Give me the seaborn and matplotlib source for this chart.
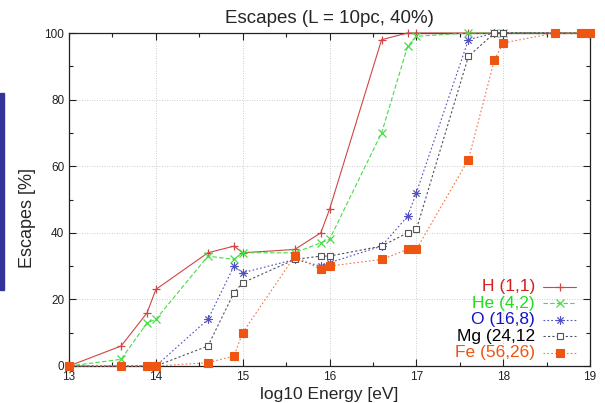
import matplotlib
matplotlib.use('Agg')
import matplotlib.pyplot as plt
from matplotlib.lines import Line2D
from matplotlib.patches import Rectangle
from matplotlib.ticker import MultipleLocator
import numpy as np
import pandas as pd
import seaborn as sns

# log10 energy points (same for every element)
energy = [13, 13.6, 13.9, 14, 14.6, 14.9, 15, 15.6, 15.9, 16,
          16.6, 16.9, 17, 17.6, 17.9, 18, 18.6, 18.9, 19]

h_esc = [0, 6, 16, 23, 34, 36, 34, 35, 40, 47, 98, 100, 100, 100, 100, 100, 100, 100, 100]
he_esc = [0, 2, 13, 14, 33, 32, 34, 34, 37, 38, 70, 96, 99, 100, 100, 100, 100, 100, 100]
o_esc = [0, 0, 0, 0, 14, 30, 28, 32, 30, 31, 36, 45, 52, 98, 100, 100, 100, 100, 100]
mg_esc = [0, 0, 0, 0, 6, 22, 25, 32, 33, 33, 36, 40, 41, 93, 100, 100, 100, 100, 100]
fe_esc = [0, 0, 0, 0, 1, 3, 10, 33, 29, 30, 32, 35, 35, 62, 92, 97, 100, 100, 100]

labels = ["H (1,1)", "He (4,2)", "O (16,8)", "Mg (24,12", "Fe (56,26)"]
values = [h_esc, he_esc, o_esc, mg_esc, fe_esc]

# style per element: line colour, text colour, linestyle, marker, filled?
styles = [
    ("#d04545", "#d42020", "-", "+", True),
    ("#44dd44", "#22dd22", (0, (4, 2)), "x", True),
    ("#5050c0", "#1515c0", (0, (1.5, 2)), "$\u2733$", True),
    ("#505060", "#000000", (0, (2, 2)), "s", False),
    ("#ee7744", "#ee5511", (0, (1.5, 2)), "s", True),
]

sns.set_style("ticks")
plt.rcParams['font.family'] = ['Liberation Sans', 'DejaVu Sans']

fig = plt.figure(figsize=(6.05, 4.03), dpi=100)
ax = fig.add_axes([69 / 605, 1 - 366 / 403, 521 / 605, 333 / 403])

# gnuplot-style key rows (axes fraction), top to bottom
key_top, key_step = 0.238, 0.0495

for i, (lab, vals, (lc, tc, ls, mk, filled)) in enumerate(zip(labels, values, styles)):
    df = pd.DataFrame({"energy": energy, "escapes": vals})
    if mk == "s":
        mfc = "#ee5511" if filled else "white"
        mec = "#ee5511" if filled else "#555555"
        ms = 5.5 if filled else 5
        mew = 0.8
    elif mk == "+":
        mfc = mec = lc
        ms = 6
        mew = 0.9
    elif mk == "x":
        mfc = mec = lc
        ms = 5.5
        mew = 0.9
    else:
        mfc = mec = lc
        ms = 6
        mew = 0.4
    sns.lineplot(data=df, x="energy", y="escapes", ax=ax, color=lc,
                 linestyle=ls, linewidth=0.8, marker=mk, markersize=ms,
                 markerfacecolor=mfc, markeredgecolor=mec, markeredgewidth=mew,
                 clip_on=False, zorder=3)
    # key entry
    y = key_top - i * key_step
    ax.text(0.894, y, lab, color=tc, fontsize=12.5, ha="right", va="center",
            transform=ax.transAxes)
    ax.add_line(Line2D([0.910, 0.973], [y, y], color=lc, linestyle=ls,
                       linewidth=0.8, transform=ax.transAxes))
    ax.add_line(Line2D([0.9415], [y], color=lc, marker=mk, markersize=ms,
                       markerfacecolor=mfc, markeredgecolor=mec,
                       markeredgewidth=mew, transform=ax.transAxes))

ax.set_xlim(13, 19)
ax.set_ylim(0, 100)
ax.xaxis.set_major_locator(MultipleLocator(1))
ax.xaxis.set_minor_locator(MultipleLocator(0.5))
ax.yaxis.set_major_locator(MultipleLocator(20))
ax.yaxis.set_minor_locator(MultipleLocator(10))
ax.grid(True, which="major", color="#bbbbbb", linestyle=(0, (1, 2)), linewidth=0.6)
ax.tick_params(which="both", direction="in", top=True, right=True,
               labelsize=8.5, colors="#222222")
ax.tick_params(which="major", length=5, width=0.8)
ax.tick_params(which="minor", length=3, width=0.8)
for s in ax.spines.values():
    s.set_color("#222222")
    s.set_linewidth(0.9)

ax.set_title("Escapes (L = 10pc, 40%)", fontsize=13.5, pad=7)
ax.set_xlabel("log10 Energy [eV]", fontsize=12.5, va="top")
ax.xaxis.set_label_coords(0.5, -0.063)
ax.set_ylabel("Escapes [%]", fontsize=13, va="center")
ax.yaxis.set_label_coords(-0.08, 0.444)

# blue side bar
fig.patches.append(Rectangle((0, 1 - 290 / 403), 4 / 605, 197 / 403,
                             transform=fig.transFigure, color="#333399", zorder=0))

fig.savefig("out.png", dpi=100)
